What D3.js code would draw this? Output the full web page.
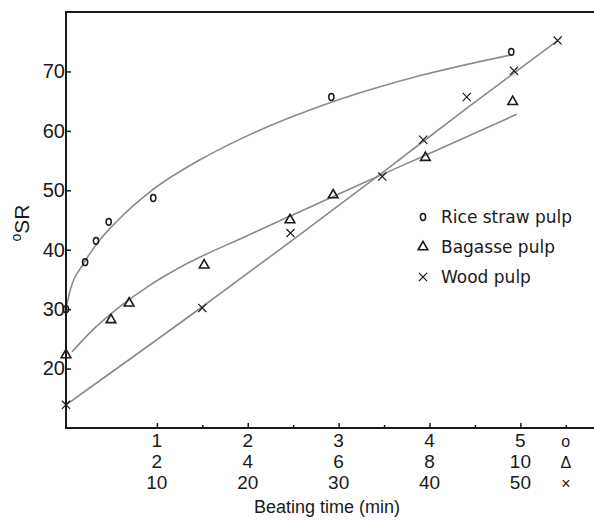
<!DOCTYPE html>
<html>
<head>
<meta charset="utf-8">
<script src="https://cdn.jsdelivr.net/npm/d3@7"></script>
<style>
  body { margin: 0; background: #fff; }
  svg { display: block; }
</style>
</head>
<body>
<svg id="chart"></svg>
<script>
// measured points (x in each pulp's own beating time units)
const riceX = [0, 0.21, 0.33, 0.47, 0.96, 2.92, 4.9]
const riceY = [30, 37.9, 41.5, 44.7, 48.7, 65.7, 73.3]
const bagX = [0, 0.99, 1.39, 3.04, 4.93, 5.88, 7.91, 9.83]
const bagY = [22.3, 28.2, 31.0, 37.4, 45.0, 49.2, 55.5, 64.9]
const woodX = [0, 15, 24.7, 34.8, 39.3, 44.1, 49.3, 54.1]
const woodY = [13.9, 30.2, 42.8, 52.3, 58.5, 65.7, 70.1, 75.2]

// fitted curves
const riceFitX = [0, 0.05, 0.19, 0.37, 0.56, 0.92, 1.47, 2.0, 2.92, 3.9, 4.9]
const riceFitY = [30.2, 33.4, 37.6, 41.6, 44.8, 49.7, 55.1, 59.2, 64.8, 69.3, 72.8]
const bagFitX = [0.13, 0.59, 1.2, 1.8, 2.5, 4, 5, 6.5, 8, 9.92]
const bagFitY = [22.8, 26.5, 30.5, 33.8, 37.0, 42.4, 45.9, 51.1, 56.2, 62.8]
const woodFitX = [0, 15, 25, 35, 44, 54.1]
const woodFitY = [13.9, 30.4, 41.7, 53.2, 63.7, 75.2]

const yTicks = [20, 30, 40, 50, 60, 70]
const riceTicks = [1, 2, 3, 4, 5]
const bagTicks = [2, 4, 6, 8, 10]
const woodTicks = [10, 20, 30, 40, 50]
const minorTicks = [1.5, 2.5, 3.5, 4.5, 5.5]
const legendNames = ['Rice straw pulp', 'Bagasse pulp', 'Wood pulp']

const W = 594, H = 520
const mLeft = 66, mTop = 12, mBottom = 428, mRight = 594

const svg = d3.select('#chart').attr('width', W).attr('height', H)

const xRice = d3.scaleLinear().domain([0, 5.81]).range([mLeft, mRight])
const xBag = d3.scaleLinear().domain([0, 11.62]).range([mLeft, mRight])
const xWood = d3.scaleLinear().domain([0, 58.1]).range([mLeft, mRight])
const y = d3.scaleLinear().domain([10, 80]).range([mBottom, mTop])

const ink = '#1a1a1a'
const lineCol = '#8a8a8a'

// fit curves
const curve = (xs, ys, sx) => d3.line()
  .x((d, i) => sx(xs[i]))
  .y((d, i) => y(ys[i]))
  .curve(d3.curveMonotoneX)(xs)

svg.append('path').attr('d', curve(riceFitX, riceFitY, xRice))
  .attr('fill', 'none').attr('stroke', lineCol).attr('stroke-width', 1.6)
svg.append('path').attr('d', curve(bagFitX, bagFitY, xBag))
  .attr('fill', 'none').attr('stroke', lineCol).attr('stroke-width', 1.6)
svg.append('path').attr('d', curve(woodFitX, woodFitY, xWood))
  .attr('fill', 'none').attr('stroke', lineCol).attr('stroke-width', 1.6)

// axes
const yAxis = svg.append('g')
  .attr('transform', `translate(${mLeft},0)`)
  .call(d3.axisLeft(y).tickValues(yTicks).tickSizeInner(-5).tickSizeOuter(0).tickPadding(3))
yAxis.select('.domain').remove()
yAxis.selectAll('line').attr('stroke', ink).attr('stroke-width', 1.5)
yAxis.selectAll('text').attr('font-family', 'Liberation Sans, Arial, sans-serif')
  .attr('font-size', 20).attr('fill', ink).attr('dx', 2)

const xAxis = svg.append('g')
  .attr('transform', `translate(0,${mBottom})`)
  .call(d3.axisBottom(xRice).tickValues(riceTicks).tickSizeInner(-5).tickSizeOuter(0).tickFormat(''))
xAxis.select('.domain').remove()
xAxis.selectAll('line').attr('stroke', ink).attr('stroke-width', 1.5)

const xMinor = svg.append('g')
  .attr('transform', `translate(0,${mBottom})`)
  .call(d3.axisBottom(xRice).tickValues(minorTicks).tickSizeInner(-3).tickSizeOuter(0).tickFormat(''))
xMinor.select('.domain').remove()
xMinor.selectAll('line').attr('stroke', ink).attr('stroke-width', 1.5)

// tick label rows
const rows = [
  { sx: xRice, ticks: riceTicks, end: 5.5, sym: 'o', y: 447 },
  { sx: xBag, ticks: bagTicks, end: 11, sym: '\u0394', y: 468 },
  { sx: xWood, ticks: woodTicks, end: 55, sym: '\u00d7', y: 489 }
]
rows.forEach(r => {
  svg.append('g').selectAll('text')
    .data(r.ticks.concat([r.end]))
    .join('text')
    .attr('x', d => r.sx(d))
    .attr('y', r.y)
    .attr('text-anchor', 'middle')
    .attr('font-family', 'Liberation Sans, Arial, sans-serif')
    .attr('font-size', d => d === r.end ? 16 : 19)
    .attr('fill', ink)
    .text(d => d === r.end ? r.sym : d)
})

// frame: left, top, bottom
svg.append('path')
  .attr('d', `M${mRight},${mTop}H${mLeft}V${mBottom}H${mRight}`)
  .attr('fill', 'none').attr('stroke', ink).attr('stroke-width', 2)

// markers
const circleMark = (g, xs, ys, sx) => g.selectAll('ellipse')
  .data(xs).join('ellipse')
  .attr('cx', (d, i) => sx(xs[i])).attr('cy', (d, i) => y(ys[i]))
  .attr('rx', 2.6).attr('ry', 3.4)
  .attr('fill', 'none').attr('stroke', ink).attr('stroke-width', 1.5)

const tri = d3.symbol().type(d3.symbolTriangle).size(40)
const times = d3.symbol().type(d3.symbolTimes).size(45)

const symMark = (g, xs, ys, sx, sym, sw) => g.selectAll('path')
  .data(xs).join('path')
  .attr('d', sym)
  .attr('transform', (d, i) => `translate(${sx(xs[i])},${y(ys[i])})`)
  .attr('fill', 'none').attr('stroke', ink).attr('stroke-width', sw)

circleMark(svg.append('g'), riceX, riceY, xRice)
symMark(svg.append('g'), bagX, bagY, xBag, tri, 1.6)
symMark(svg.append('g'), woodX, woodY, xWood, times, 1.2)

// legend
const lg = svg.append('g')
legendNames.forEach((name, i) => {
  const by = 223 + i * 30
  const cy = by - 6
  if (i === 0) {
    lg.append('ellipse').attr('cx', 423).attr('cy', cy).attr('rx', 2.6).attr('ry', 3.4)
      .attr('fill', 'none').attr('stroke', ink).attr('stroke-width', 1.5)
  } else {
    lg.append('path').attr('d', i === 1 ? tri() : times())
      .attr('transform', `translate(423,${cy})`)
      .attr('fill', 'none').attr('stroke', ink).attr('stroke-width', i === 1 ? 1.6 : 1.2)
  }
  lg.append('text').attr('x', 441).attr('y', by)
    .attr('font-family', 'DejaVu Sans, sans-serif').attr('font-size', 17)
    .attr('fill', ink).text(name)
})

// axis titles
svg.append('text')
  .attr('x', 327).attr('y', 513)
  .attr('text-anchor', 'middle')
  .attr('font-family', 'Liberation Sans, Arial, sans-serif')
  .attr('font-size', 18).attr('fill', ink)
  .text('Beating time (min)')

const yt = svg.append('text')
  .attr('transform', 'translate(29,223) rotate(-90)')
  .attr('text-anchor', 'middle')
  .attr('font-family', 'Liberation Sans, Arial, sans-serif')
  .attr('font-size', 21).attr('fill', ink)
yt.append('tspan').attr('font-size', 14).attr('dy', -8).text('o')
yt.append('tspan').attr('dy', 8).text('SR')
</script>
</body>
</html>
